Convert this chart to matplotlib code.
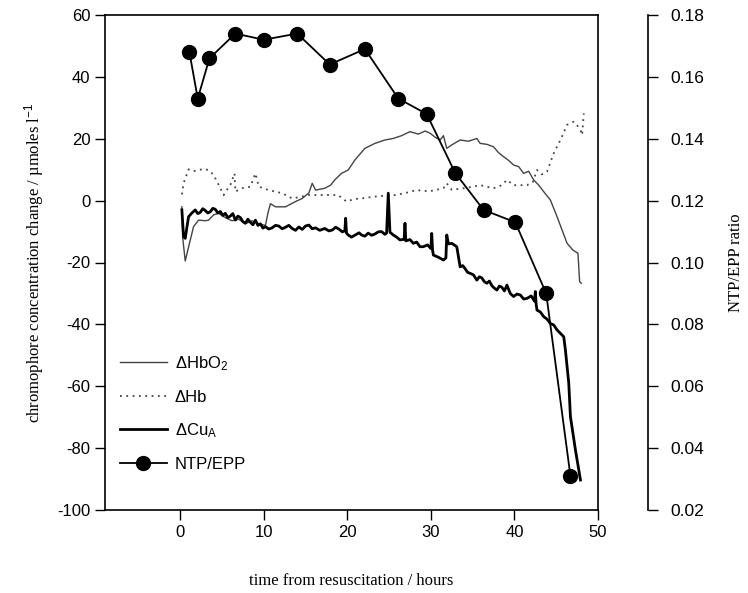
import matplotlib
matplotlib.use('Agg')
import matplotlib.pyplot as plt
from matplotlib.lines import Line2D

plt.rcParams['font.family'] = ['Liberation Sans', 'DejaVu Sans']
plt.rcParams['mathtext.fontset'] = 'custom'
plt.rcParams['mathtext.rm'] = 'Liberation Sans'
plt.rcParams['mathtext.it'] = 'Liberation Sans:italic'
plt.rcParams['axes.unicode_minus'] = False

# hours from resuscitation / umol l-1
hbo2_t = [0.2, 0.3, 0.6, 1.0, 1.6, 2.2, 3.0, 3.4, 4.0, 4.6,
          5.4, 6.2, 7.0, 7.8, 8.6, 9.4, 10.2, 10.5, 10.8, 11.4,
          12.6, 13.8, 14.6, 15.4, 15.8, 16.2, 17.3, 18.0, 18.5, 19.3,
          20.1, 20.9, 22.1, 23.3, 24.5, 25.5, 26.5, 27.5, 28.5, 29.3,
          29.9, 30.5, 31.1, 31.5, 31.9, 32.5, 33.5, 34.5, 35.5, 35.9,
          36.7, 37.5, 38.1, 38.7, 39.3, 39.9, 40.5, 41.1, 41.7, 42.3,
          42.9, 43.5, 44.3, 45.1, 45.7, 46.3, 47.0, 47.6, 47.8, 48.0]
hbo2_v = [-2, -12, -19.5, -15, -8.4, -6.3, -6.5, -6.3, -4.6, -4.1,
          -5.5, -6.5, -6.0, -7.5, -6.5, -7.5, -8.0, -4, -1, -2,
          -2, -0.3, 0.7, 2.5, 5.6, 3.4, 4, 5, 6.7, 8.8,
          9.9, 13.1, 16.9, 18.5, 19.6, 20.1, 21, 22.3, 21.5, 22.5,
          21.8, 20.5, 19.6, 21, 16.9, 18, 19.6, 19.2, 20.1, 18.5,
          18.2, 17.4, 15.5, 14.2, 13, 11.5, 11, 8.8, 9.5, 6.7,
          5, 2.9, 0.2, -5.2, -9.5, -13.8, -16, -17, -26.2, -26.7]

hb_t = [0.2, 0.4, 1.0, 1.6, 2.2, 2.8, 3.4, 4.0, 4.8, 5.2,
        5.6, 6.0, 6.5, 6.6, 7.0, 7.4, 8.4, 9.0, 9.4, 10.6,
        12.2, 13.4, 14.4, 15.4, 17.3, 18.9, 19.9, 20.8, 21.7, 23.0,
        24.1, 25.8, 27.0, 28.3, 29.8, 31.5, 31.9, 32.5, 33.9, 35.0,
        35.9, 37.5, 38.5, 39.1, 39.9, 41.5, 42.2, 42.7, 43.3, 43.9,
        44.7, 45.5, 46.3, 47.1, 47.6, 47.9, 48.1, 48.3]
hb_v = [2, 5.6, 10.1, 9.5, 9.9, 10.2, 9.9, 8.3, 4, 1.8,
        3.5, 5, 8.8, 2.9, 3.5, 4, 4.5, 8.8, 4.5, 3.4,
        2.4, 0.7, 1.2, 1.8, 1.8, 1.8, -0.3, 0.5, 0.7, 1.2,
        1.5, 1.8, 2.5, 3.4, 3.0, 4, 5.6, 3.5, 4, 4.5,
        5, 4, 5, 6.7, 5, 5, 6, 9.9, 8.5, 9.4,
        15.3, 19.6, 24.5, 25.5, 24, 22.8, 21.2, 28.2]

cua_t = [0.2, 0.4, 0.6, 1.0, 1.4, 1.8, 2.1, 2.4, 2.7, 3.0, 3.3, 3.6, 3.9, 4.2,
         4.5, 4.8, 5.1, 5.4, 5.7, 6.0, 6.3, 6.6, 6.9, 7.2, 7.5, 7.8, 8.1, 8.4,
         8.7, 9.0, 9.3, 9.6, 9.9, 10.2, 10.6, 11.0, 11.4, 11.8, 12.2, 12.6,
         13.0, 13.4, 13.8, 14.2, 14.6, 15.0, 15.4, 15.8, 16.2, 16.7, 17.3,
         17.8, 18.2, 18.6, 19.0, 19.4, 19.7, 19.8, 19.9, 20.1, 20.5, 21.0,
         21.4, 21.7, 22.1, 22.5, 22.9, 23.3, 23.7, 24.1, 24.5,
         24.7, 24.9, 25.1, 25.5, 25.9, 26.3, 26.8, 26.9, 27.0, 27.5, 27.9, 28.3,
         28.7, 29.1, 29.6, 30.0, 30.1, 30.2, 30.3, 30.9, 31.5, 31.8, 31.9,
         32.1, 32.5, 33.1, 33.5, 33.8, 34.1, 34.4, 34.7, 35.1, 35.5, 35.8,
         36.1, 36.4, 36.7, 37.0, 37.3, 37.6, 37.9, 38.2, 38.5, 38.8, 39.1,
         39.5, 39.9, 40.3, 40.7, 41.1, 41.5, 42.0, 42.4, 42.5, 42.6, 42.7,
         43.1, 43.5, 43.9, 44.3, 44.7, 45.1, 45.5, 45.9, 46.1, 46.5, 46.7,
         47.3, 47.9]
cua_v = [-3, -11.6, -12.2, -5.2, -4, -3, -4.2, -3.8, -2.6, -3.2, -4.0, -3.6, -2.5, -2.8,
         -4.0, -3.5, -4.8, -4.1, -5.5, -5, -4.2, -6.3, -5.0, -5.5, -6.8, -7.3, -6.0, -7,
         -7.8, -6.3, -8.0, -7.5, -8.9, -8.4, -9.2, -8.8, -8.0, -8.2, -9.1, -8.6,
         -8.0, -9, -9.6, -8.5, -9.3, -8.2, -7.9, -9.1, -8.8, -9.6, -9,
         -9.8, -9.5, -8.6, -9.2, -10.1, -9.8, -5.7, -10.5, -11.1, -11.8, -11,
         -10.4, -11.1, -11.5, -10.5, -11.2, -10.8, -10.1, -10, -10.9,
         -10.5, 2.4, -10.2, -11.1, -11.8, -12.7, -12.5, -7.3, -13, -12.6, -13.8, -13.4,
         -14.9, -14.9, -14.3, -15.5, -10.6, -16, -17.6, -18.3, -19.2, -18.5, -11.1,
         -14, -13.8, -14.9, -21.4, -21.0, -22, -23.2, -23.5, -24.0, -25.7, -24.6,
         -25.0, -26.2, -26.7, -26.0, -27.5, -28.3, -28.9, -27.6, -28.0, -29.2, -27.3,
         -30.0, -31, -30.2, -30.5, -31.8, -31.6, -30.8, -32.5, -29.4, -33.5, -35.4,
         -36.0, -37.5, -38.3, -39.7, -40.2, -41.8, -42.9, -44, -48.3, -59, -69.8,
         -80.6, -90.3]

ntp_t = [1.1, 2.1, 3.5, 6.6, 10.0, 14.0, 17.9, 22.1, 26.1, 29.5,
         32.9, 36.3, 40.1, 43.8, 46.7]
ntp_r = [0.168, 0.153, 0.166, 0.174, 0.172, 0.174, 0.164, 0.169, 0.153, 0.148,
         0.129, 0.117, 0.113, 0.090, 0.031]

fig = plt.figure(figsize=(7.48, 5.93), dpi=100)
ax = fig.add_axes([105/748, 1-510/593, 493/748, 495/593])

ax.plot(hbo2_t, hbo2_v, color='#444444', lw=1.0)
ax.plot(hb_t, hb_v, color='#444444', lw=1.3, ls=(0, (1, 2.5)))
ax.plot(cua_t, cua_v, color='black', lw=2.0)

ax.set_xlim(-9, 50)
ax.set_ylim(-100, 60)
ax.set_xticks([0, 10, 20, 30, 40, 50])
ax.set_yticks(range(-100, 61, 20))
ax.tick_params(direction='out', length=7, width=1, labelsize=12, right=False, top=False)
for s in ax.spines.values():
    s.set_linewidth(1.2)

serif = ['Liberation Serif', 'DejaVu Serif']
ax.set_xlabel('time from resuscitation / hours', family=serif, fontsize=12, labelpad=24)
ax.set_ylabel('chromophore concentration change / µmoles l$^{-1}$', family=serif,
              fontsize=12, labelpad=8)

ax2 = ax.twinx()
ax2.plot(ntp_t, ntp_r, color='black', lw=1.3, marker='o', ms=10)
ax2.set_ylim(0.02, 0.18)
ax2.set_yticks([0.02, 0.04, 0.06, 0.08, 0.10, 0.12, 0.14, 0.16, 0.18])
ax2.set_yticklabels(['%.2f' % v for v in ax2.get_yticks()])
ax2.spines['right'].set_position(('outward', 36))
ax2.spines['right'].set_linewidth(1.2)
for k in ['top', 'left', 'bottom']:
    ax2.spines[k].set_visible(False)
ax2.tick_params(direction='out', length=7, width=1, labelsize=12.5, pad=9)
fig.text(736/748, 1-263/593, 'NTP/EPP ratio', family=serif, fontsize=12,
         rotation=90, ha='center', va='center')

handles = [Line2D([], [], color='#444444', lw=1.0),
           Line2D([], [], color='#444444', lw=1.3, ls=(0, (1, 2.5))),
           Line2D([], [], color='black', lw=2.0),
           Line2D([], [], color='black', lw=1.3, marker='o', ms=10)]
labels = ['ΔHbO$_2$', 'ΔHb', 'ΔCu$_\\mathrm{A}$', 'NTP/EPP']
ax2.legend(handles, labels, loc='upper left', bbox_to_anchor=(0.0, 0.345),
           frameon=False, fontsize=12, handlelength=2.8, labelspacing=1.0,
           numpoints=1, handletextpad=0.5)

fig.savefig('out.png', dpi=100)
